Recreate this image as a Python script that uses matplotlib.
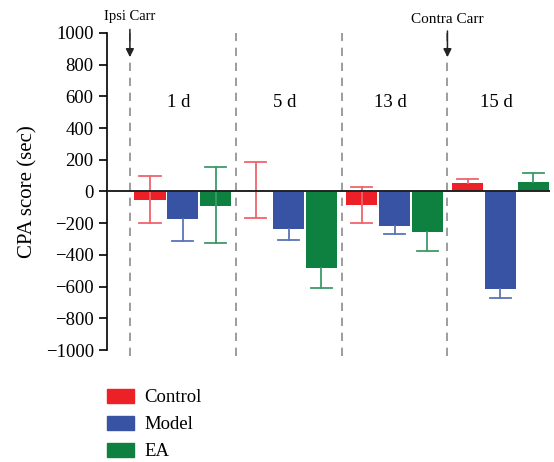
import numpy as np
import matplotlib
matplotlib.use("Agg")
import matplotlib.pyplot as plt
from matplotlib.patches import Patch

plt.rcParams['font.family'] = ['Liberation Serif', 'DejaVu Serif']

days = ['1 d', '5 d', '13 d', '15 d']
groups = ['Control', 'Model', 'EA']

# mean CPA score per group and day
control = [-55, 5, -85, 52]
model = [-173, -236, -217, -614]
ea = [-91, -482, -255, 59]

# error bar lengths (lower, upper); 0 = side not drawn
control_lo = [145, 175, 115, 0]
control_hi = [150, 180, 115, 28]
model_lo = [140, 70, 54, 60]
model_hi = [0, 0, 0, 0]
ea_lo = [232, 126, 120, 0]
ea_hi = [245, 0, 0, 55]

bar_colors = ['#ee2027', '#3953a4', '#0e8040']
err_colors = ['#f0656c', '#5c74b8', '#3e9a68']

fig = plt.figure(figsize=(5.54, 4.62), dpi=100)
ax = fig.add_axes([0.193, 0.2424, 0.80, 0.6862])

x = np.arange(1, len(days) + 1)
w = 0.295
step = 0.31
cap = 0.1
series = [(control, control_lo, control_hi),
          (model, model_lo, model_hi),
          (ea, ea_lo, ea_hi)]
for i, (vals, lo, hi) in enumerate(series):
    pos = x + (i - 1) * step
    ax.bar(pos, vals, width=w, color=bar_colors[i], zorder=2)
    for p, v, l, h in zip(pos, vals, lo, hi):
        # one-sided caps: only draw the ends that have a length
        for end in ([v - l] if l else []) + ([v + h] if h else []):
            ax.plot([p, p], [v, end], color=err_colors[i], lw=1.3, zorder=3)
            ax.plot([p - cap, p + cap], [end, end], color=err_colors[i],
                    lw=1.3, zorder=3)

ax.axhline(0, color='#222222', lw=1.4, zorder=4)

# separators between days
for sx in [0.5, 1.5, 2.5, 3.5]:
    ax.plot([sx, sx], [-1040, 1000], color='#8c8c8c', lw=1.2,
            ls=(0, (5, 4)), clip_on=False, zorder=1)

for xi, d in zip(x, days):
    ax.text(xi - 0.04, 560, d, ha='center', va='center', fontsize=13.5)

ax.annotate('', xy=(0.5, 830), xytext=(0.5, 1040),
            arrowprops=dict(arrowstyle='-|>', color='#222222', lw=1.1,
                            mutation_scale=12), annotation_clip=False)
ax.text(0.5, 1105, 'Ipsi Carr', ha='center', va='center', fontsize=10.5)
ax.annotate('', xy=(3.5, 830), xytext=(3.5, 1030),
            arrowprops=dict(arrowstyle='-|>', color='#222222', lw=1.1,
                            mutation_scale=12), annotation_clip=False)
ax.text(3.5, 1085, 'Contra Carr', ha='center', va='center', fontsize=11)

ax.set_xlim(0.283, 4.47)
ax.set_ylim(-1000, 1000)
ax.set_yticks(np.arange(-1000, 1001, 200))
ax.tick_params(axis='y', labelsize=13.5, length=6, width=1.2, direction='out')
ax.set_xticks([])
for s in ['top', 'right', 'bottom']:
    ax.spines[s].set_visible(False)
ax.spines['left'].set_linewidth(1.2)
ax.set_ylabel('CPA score (sec)', fontsize=15, labelpad=6)

handles = [Patch(color=c) for c in bar_colors]
fig.legend(handles, groups, loc='upper left', bbox_to_anchor=(0.179, 0.175),
           frameon=False, fontsize=13.5, handlelength=1.45, handleheight=0.8,
           labelspacing=0.5, handletextpad=0.55, borderaxespad=0)

fig.savefig('out.png', dpi=100)
